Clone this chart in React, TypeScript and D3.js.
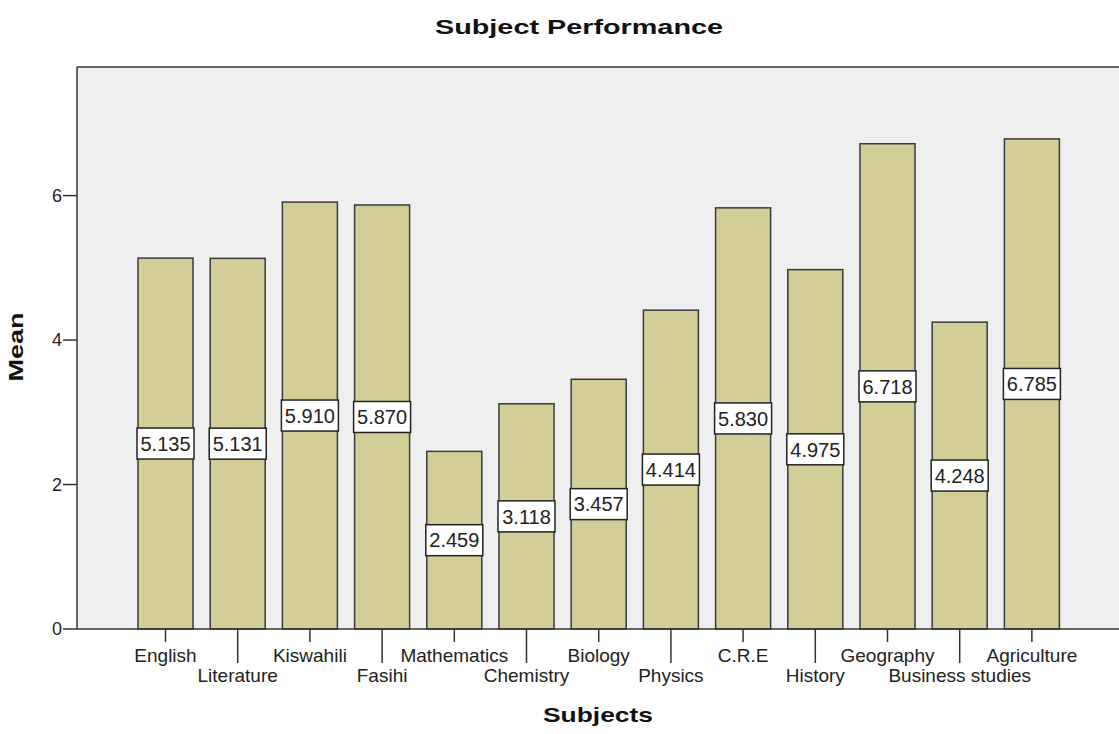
import React, { useEffect, useRef } from "react";
import * as d3 from "d3";

const subjects = ["English", "Literature", "Kiswahili", "Fasihi", "Mathematics", "Chemistry", "Biology", "Physics", "C.R.E", "History", "Geography", "Business studies", "Agriculture"];
const means = [5.135, 5.131, 5.91, 5.87, 2.459, 3.118, 3.457, 4.414, 5.83, 4.975, 6.718, 4.248, 6.785];
const yTicks = [0, 2, 4, 6];

const W = 1119, H = 734;
const FONT = "'Liberation Sans', Arial, sans-serif";

export default function App() {
  const ref = useRef<SVGSVGElement>(null);
  useEffect(() => {
    document.body.style.margin = "0";
    const svg = d3.select(ref.current);
    svg.selectAll("*").remove();

    const left = 77, top = 67, bottom = 629;
    const y = d3.scaleLinear().domain([0, 7.78]).range([bottom, top]);
    const step = 72.2;
    const x = d3.scaleBand<string>()
      .domain(subjects)
      .range([165.5 - step / 2, 165.5 - step / 2 + step * subjects.length])
      .paddingInner(0.238)
      .paddingOuter(0.119);

    svg.append("rect").attr("x", left).attr("y", top).attr("width", W - left + 10).attr("height", bottom - top).attr("fill", "#efefef");

    // frame
    svg.append("line").attr("x1", left).attr("x2", W + 5).attr("y1", top).attr("y2", top).attr("stroke", "#333").attr("stroke-width", 1.5);
    svg.append("line").attr("x1", left).attr("x2", left).attr("y1", top).attr("y2", bottom).attr("stroke", "#333").attr("stroke-width", 1.5);

    const g = svg.append("g");
    g.selectAll("rect.bar").data(subjects).join("rect")
      .attr("class", "bar")
      .attr("x", (d) => x(d)!)
      .attr("width", x.bandwidth())
      .attr("y", (d, i) => y(means[i]))
      .attr("height", (d, i) => bottom - y(means[i]))
      .attr("fill", "#d3ce97")
      .attr("stroke", "#3a3a3a")
      .attr("stroke-width", 1.5);

    svg.append("line").attr("x1", left).attr("x2", W + 5).attr("y1", bottom).attr("y2", bottom).attr("stroke", "#333").attr("stroke-width", 1.5);

    // y ticks
    yTicks.forEach((t) => {
      svg.append("line").attr("x1", left - 14).attr("x2", left).attr("y1", y(t)).attr("y2", y(t)).attr("stroke", "#333").attr("stroke-width", 1.5);
      svg.append("text").attr("x", left - 15).attr("y", y(t)).attr("dy", "0.35em").attr("text-anchor", "end")
        .attr("font-family", FONT).attr("font-size", 18).attr("fill", "#222").text(String(t));
    });

    // x ticks and labels
    subjects.forEach((s, i) => {
      const cx = x(s)! + x.bandwidth() / 2;
      const odd = i % 2 === 1;
      svg.append("line").attr("x1", cx).attr("x2", cx).attr("y1", bottom).attr("y2", odd ? 663 : 642).attr("stroke", "#333").attr("stroke-width", 1.5);
      svg.append("text").attr("x", cx).attr("y", odd ? 682 : 662).attr("text-anchor", "middle")
        .attr("font-family", FONT).attr("font-size", 19).attr("fill", "#222").text(s);
    });

    // value labels
    subjects.forEach((s, i) => {
      const cx = x(s)! + x.bandwidth() / 2;
      const cy = y(means[i] / 2);
      const bw = 57, bh = 31;
      svg.append("rect").attr("x", cx - bw / 2).attr("y", cy - bh / 2).attr("width", bw).attr("height", bh)
        .attr("fill", "#fff").attr("stroke", "#222").attr("stroke-width", 1.5);
      svg.append("text").attr("x", cx).attr("y", cy).attr("dy", "0.36em").attr("text-anchor", "middle")
        .attr("font-family", FONT).attr("font-size", 20).attr("fill", "#222").text(means[i].toFixed(3));
    });

    // titles
    svg.append("text").attr("x", 579).attr("y", 34).attr("text-anchor", "middle")
      .attr("font-family", FONT).attr("font-weight", "bold").attr("font-size", 21).attr("fill", "#111")
      .attr("textLength", 288).attr("lengthAdjust", "spacingAndGlyphs").text("Subject Performance");
    svg.append("text").attr("x", 598).attr("y", 722).attr("text-anchor", "middle")
      .attr("font-family", FONT).attr("font-weight", "bold").attr("font-size", 21).attr("fill", "#111")
      .attr("textLength", 110).attr("lengthAdjust", "spacingAndGlyphs").text("Subjects");
    svg.append("text").attr("transform", "translate(23,347) rotate(-90)").attr("text-anchor", "middle")
      .attr("font-family", FONT).attr("font-weight", "bold").attr("font-size", 20).attr("fill", "#111")
      .attr("textLength", 69).attr("lengthAdjust", "spacingAndGlyphs").text("Mean");
  }, []);
  return <svg ref={ref} width={W} height={H} style={{ display: "block", background: "#fff" }} />;
}
